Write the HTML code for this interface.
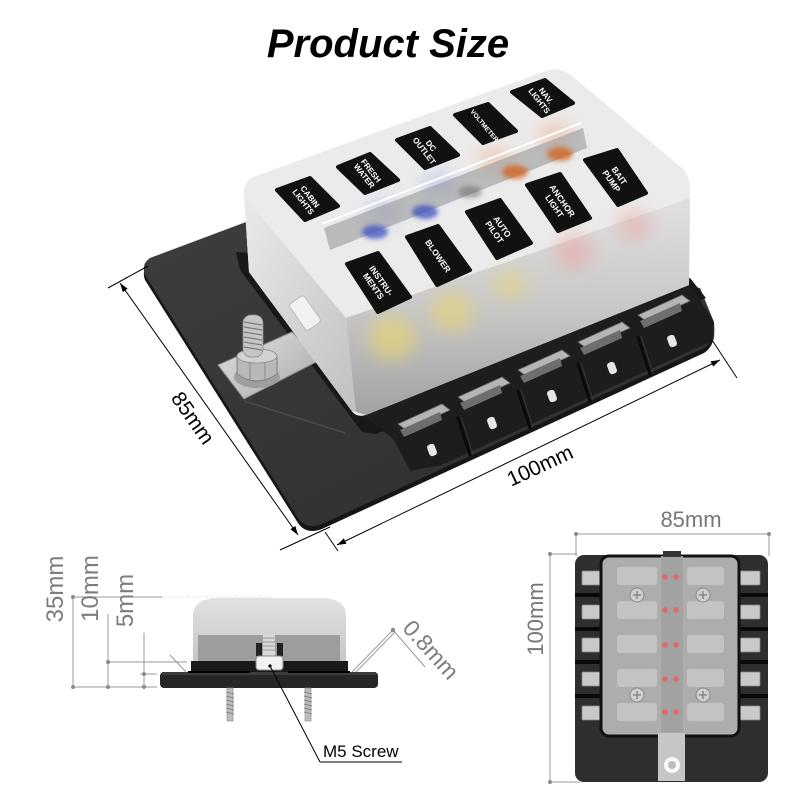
<!DOCTYPE html>
<html><head><meta charset="utf-8"><style>
html,body{margin:0;padding:0;background:#fff;}
svg{display:block;}
</style></head><body>
<svg width="800" height="800" viewBox="0 0 800 800" xmlns="http://www.w3.org/2000/svg">
<defs>
 <linearGradient id="plate" x1="0" y1="0" x2="1" y2="1">
  <stop offset="0" stop-color="#3d3d3d"/><stop offset="1" stop-color="#2d2d2d"/>
 </linearGradient>
 <linearGradient id="front" x1="0" y1="0" x2="0" y2="1">
  <stop offset="0" stop-color="#e0e0e0"/><stop offset="0.5" stop-color="#c8c8c8"/><stop offset="1" stop-color="#a2a2a2"/>
 </linearGradient>
 <linearGradient id="leftf" x1="0" y1="0" x2="1" y2="1">
  <stop offset="0" stop-color="#eaeaea"/><stop offset="1" stop-color="#c0c0c0"/>
 </linearGradient>
 <linearGradient id="sidecov" x1="0" y1="0" x2="0" y2="1">
  <stop offset="0" stop-color="#e2e2e2"/><stop offset="1" stop-color="#c6c6c6"/>
 </linearGradient>
 <linearGradient id="metal" x1="0" y1="0" x2="1" y2="1">
  <stop offset="0" stop-color="#e2e2e2"/><stop offset="1" stop-color="#a8a8a8"/>
 </linearGradient>
 <filter id="blur" x="-50%" y="-50%" width="200%" height="200%"><feGaussianBlur stdDeviation="8"/></filter>
 <filter id="blur2" x="-50%" y="-50%" width="200%" height="200%"><feGaussianBlur stdDeviation="2.5"/></filter>
</defs>

<!-- Title -->
<text x="388" y="57" font-family="Liberation Sans, sans-serif" font-weight="bold" font-style="italic" font-size="40" text-anchor="middle" fill="#000">Product Size</text>

<!-- ===== Main product ===== -->
<path d="M150,263 L262,221 L700,293 L714,327 Q716,345 704,353 L322,529 Q306,535 298,523 L145,280 Q141,269 150,263 Z" fill="#161616"/>
<path d="M150,258 L262,216 L700,288 L714,322 Q716,340 704,348 L322,524 Q306,530 298,518 L145,275 Q141,264 150,258 Z" fill="url(#plate)"/>
<line x1="244" y1="401" x2="345" y2="433" stroke="#4a4a4a" stroke-width="1.5"/>
<polygon points="236,252 690,278 706,298 376,434 362,432 240,270" fill="#181818"/>

<!-- terminal strip -->
<polygon points="362,414 690,284 714,322 712,341 442,465 410,471 394,440" fill="#1d1d1d"/>
<g stroke-linecap="round">
 <line x1="458" y1="418" x2="470" y2="455" stroke="#0a0a0a" stroke-width="3"/>
 <line x1="518" y1="391" x2="530" y2="428" stroke="#0a0a0a" stroke-width="3"/>
 <line x1="578" y1="364" x2="590" y2="401" stroke="#0a0a0a" stroke-width="3"/>
 <line x1="638" y1="337" x2="650" y2="374" stroke="#0a0a0a" stroke-width="3"/>
 <line x1="461" y1="417" x2="473" y2="454" stroke="#383838" stroke-width="1"/>
 <line x1="521" y1="390" x2="533" y2="427" stroke="#383838" stroke-width="1"/>
 <line x1="581" y1="363" x2="593" y2="400" stroke="#383838" stroke-width="1"/>
 <line x1="641" y1="336" x2="653" y2="373" stroke="#383838" stroke-width="1"/>
</g>
<g fill="#b5b5b5" stroke="#6a6a6a" stroke-width="0.8">
 <polygon points="398,424 442,404 450,410 406,430"/>
 <polygon points="458,397 502,377 510,383 466,403"/>
 <polygon points="518,370 562,350 570,356 526,376"/>
 <polygon points="578,342 622,322 630,328 586,348"/>
 <polygon points="638,315 682,295 690,301 646,321"/>
</g>
<g fill="#6e6e6e">
 <polygon points="400,430 440,412 442,420 404,437"/>
 <polygon points="460,403 500,385 502,393 464,410"/>
 <polygon points="520,376 560,358 562,366 524,383"/>
 <polygon points="580,348 620,330 622,338 584,355"/>
 <polygon points="640,321 680,303 682,311 644,328"/>
</g>
<g fill="#e6e6e6">
 <rect x="428" y="444" width="8" height="12" rx="3" transform="rotate(-20 432 450)"/>
 <rect x="488" y="417" width="8" height="12" rx="3" transform="rotate(-20 492 423)"/>
 <rect x="548" y="390" width="8" height="12" rx="3" transform="rotate(-20 552 396)"/>
 <rect x="608" y="362" width="8" height="12" rx="3" transform="rotate(-20 612 368)"/>
 <rect x="668" y="335" width="8" height="12" rx="3" transform="rotate(-20 672 341)"/>
</g>

<!-- metal plate + stud -->
<polygon points="218,365 292,332 320,360 244,399" fill="url(#metal)" stroke="#8d8d8d" stroke-width="1"/>
<ellipse cx="257" cy="377" rx="23" ry="11" fill="#9e9e9e"/>
<path d="M237,356 L237,374 Q257,388 277,374 L277,356 Q257,344 237,356 Z" fill="#b8b8b8" stroke="#7d7d7d" stroke-width="1"/>
<path d="M250,350 L250,381 M265,350 L265,381" stroke="#8a8a8a" stroke-width="1"/>
<ellipse cx="257" cy="356" rx="20" ry="7" fill="#d2d2d2" stroke="#8a8a8a" stroke-width="0.8"/>
<rect x="243" y="315" width="20" height="42" rx="8" fill="#c6c6c6" stroke="#8a8a8a" stroke-width="0.8"/>
<g stroke="#7c7c7c" stroke-width="1.2">
 <line x1="244" y1="322" x2="262" y2="325"/><line x1="244" y1="327" x2="262" y2="330"/>
 <line x1="244" y1="332" x2="262" y2="335"/><line x1="244" y1="337" x2="262" y2="340"/>
 <line x1="244" y1="342" x2="262" y2="345"/><line x1="244" y1="347" x2="262" y2="350"/>
</g>

<!-- cover -->
<path d="M244,192 Q244,180 256,176 L546,71 Q560,66 572,76 L682,168 Q690,176 690,190 L689,285 L366,415 Q356,418 351,410 L249,272 Z" fill="#ebebeb"/>
<polygon points="244,196 346,318 356,412 351,410 249,272" fill="url(#leftf)"/>
<polygon points="346,318 690,198 689,285 366,415 356,412" fill="url(#front)"/>
<rect x="296" y="297" width="18" height="32" rx="3" fill="#f2f2f2" stroke="#bdbdbd" transform="rotate(-35 305 313)"/>
<!-- glows -->
<g filter="url(#blur)">
 <ellipse cx="392" cy="338" rx="24" ry="22" fill="#ecd864" opacity="0.55"/>
 <ellipse cx="452" cy="312" rx="22" ry="20" fill="#ecd864" opacity="0.5"/>
 <ellipse cx="510" cy="285" rx="18" ry="16" fill="#ecd864" opacity="0.4"/>
 <ellipse cx="574" cy="252" rx="20" ry="18" fill="#eea0a0" opacity="0.5"/>
 <ellipse cx="634" cy="225" rx="18" ry="16" fill="#eea0a0" opacity="0.45"/>
 <ellipse cx="385" cy="212" rx="18" ry="12" fill="#9aaaee" opacity="0.45"/>
 <ellipse cx="440" cy="185" rx="18" ry="12" fill="#9aaaee" opacity="0.45"/>
 <ellipse cx="495" cy="160" rx="18" ry="12" fill="#f0a880" opacity="0.45"/>
 <ellipse cx="555" cy="135" rx="18" ry="12" fill="#f0a880" opacity="0.45"/>
</g>
<!-- channel -->
<polygon points="324,228 583,128 587,148 330,250" fill="#9a9a9a" opacity="0.6"/>
<g filter="url(#blur2)">
 <ellipse cx="375" cy="232" rx="13" ry="7" fill="#3a4fc0" opacity="0.75"/>
 <ellipse cx="425" cy="212" rx="13" ry="7" fill="#3a4fc0" opacity="0.75"/>
 <ellipse cx="515" cy="172" rx="13" ry="7" fill="#d2621a" opacity="0.75"/>
 <ellipse cx="560" cy="154" rx="13" ry="7" fill="#d2621a" opacity="0.75"/>
 <ellipse cx="470" cy="192" rx="12" ry="6" fill="#666" opacity="0.5"/>
</g>
<line x1="322" y1="224" x2="581" y2="123" stroke="#ffffff" stroke-width="2"/>

<!-- labels -->
<g fill="#111" stroke="#111" stroke-width="4" stroke-linejoin="round">
 <polygon points="277,190 310,178 338,206 305,220"/>
 <polygon points="338,167 370,154 398,180 365,193"/>
 <polygon points="397,140 430,128 458,155 425,168"/>
 <polygon points="455,115 488,104 516,131 483,143"/>
 <polygon points="512,92 545,80 573,103 542,116"/>
 <polygon points="347,264 378,253 410,297 378,312"/>
 <polygon points="407,237 438,226 470,270 437,285"/>
 <polygon points="467,212 500,200 531,243 497,258"/>
 <polygon points="527,185 560,174 590,218 558,231"/>
 <polygon points="585,160 617,150 646,193 618,205"/>
</g>
<g font-family="Liberation Sans, sans-serif" font-weight="bold" font-size="8" fill="#fff" text-anchor="middle">
 <text transform="translate(307,199) rotate(52)"><tspan x="0" y="-1">CABIN</tspan><tspan x="0" y="7.5">LIGHTS</tspan></text>
 <text transform="translate(368,173) rotate(52)"><tspan x="0" y="-1">FRESH</tspan><tspan x="0" y="7.5">WATER</tspan></text>
 <text transform="translate(428,148) rotate(52)"><tspan x="0" y="-1">DC</tspan><tspan x="0" y="7.5">OUTLET</tspan></text>
 <text transform="translate(485,125) rotate(50)" font-size="6.5"><tspan x="0" y="3">VOLTMETER</tspan></text>
 <text transform="translate(543,98) rotate(52)"><tspan x="0" y="-1">NAV.</tspan><tspan x="0" y="7.5">LIGHTS</tspan></text>
 <text transform="translate(378,283) rotate(55)" font-size="8.5"><tspan x="0" y="-1">INSTRU-</tspan><tspan x="0" y="8.5">MENTS</tspan></text>
 <text transform="translate(438,256) rotate(55)" font-size="8.5"><tspan x="0" y="3">BLOWER</tspan></text>
 <text transform="translate(499,229) rotate(55)" font-size="8.5"><tspan x="0" y="-1">AUTO</tspan><tspan x="0" y="8.5">PILOT</tspan></text>
 <text transform="translate(559,203) rotate(55)" font-size="8.5"><tspan x="0" y="-1">ANCHOR</tspan><tspan x="0" y="8.5">LIGHT</tspan></text>
 <text transform="translate(616,178) rotate(55)" font-size="8.5"><tspan x="0" y="-1">BAIT</tspan><tspan x="0" y="8.5">PUMP</tspan></text>
</g>

<!-- main dimension lines -->
<g stroke="#000" stroke-width="1" fill="none">
 <line x1="120" y1="283" x2="298" y2="535"/>
 <line x1="108" y1="288" x2="148" y2="266"/>
 <line x1="280" y1="550" x2="330" y2="527"/>
 <line x1="337" y1="545" x2="720" y2="360"/>
 <line x1="325" y1="532" x2="338" y2="551"/>
 <line x1="712" y1="340" x2="737" y2="378"/>
</g>
<g fill="#000">
 <polygon points="120,283 122.8,292.1 127.7,288.7"/>
 <polygon points="298,535 290.4,529.3 295.3,525.9"/>
 <polygon points="337,545 346.4,543.8 343.8,538.4"/>
 <polygon points="720,360 713.2,366.6 710.6,361.2"/>
</g>
<g font-family="Liberation Sans, sans-serif" font-size="21" fill="#000" text-anchor="middle">
 <text transform="translate(187,422) rotate(55)">85mm</text>
 <text transform="translate(543,472) rotate(-25)">100mm</text>
</g>

<!-- ===== Side view ===== -->
<g stroke="#9a9a9a" stroke-width="1" fill="none">
 <line x1="73" y1="597" x2="162" y2="597"/>
 <line x1="162" y1="597" x2="273" y2="597" stroke="#d0d0d0" stroke-dasharray="1,2"/>
 <line x1="108" y1="662" x2="187" y2="662"/>
 <line x1="140" y1="674" x2="157" y2="674"/>
 <line x1="73" y1="687" x2="157" y2="687"/>
 <line x1="73" y1="597" x2="73" y2="687"/>
 <line x1="108" y1="614" x2="108" y2="687"/>
 <line x1="144" y1="633" x2="144" y2="687"/>
 <line x1="170" y1="655" x2="186" y2="672"/>
 <line x1="352" y1="672" x2="393" y2="630"/>
 <line x1="355" y1="673" x2="395" y2="632"/>
 <line x1="393" y1="630" x2="425" y2="667"/>
</g>
<g fill="#8a8a8a">
 <circle cx="73" cy="597" r="2"/><circle cx="73" cy="687" r="2"/>
 <circle cx="108" cy="662" r="2"/><circle cx="108" cy="687" r="2"/>
 <circle cx="144" cy="674" r="2"/><circle cx="144" cy="687" r="2"/>
 <circle cx="393" cy="630" r="2.2"/>
</g>
<g font-family="Liberation Sans, sans-serif" font-size="24" fill="#7d7d7d" text-anchor="middle">
 <text transform="translate(63,589) rotate(-90)">35mm</text>
 <text transform="translate(98,588.5) rotate(-90)">10mm</text>
 <text transform="translate(133,600.5) rotate(-90)">5mm</text>
 <text transform="translate(425,655) rotate(48)" font-size="23">0.8mm</text>
</g>
<path d="M193,661 L193,614 Q194,600 214,598 L325,598 Q345,600 346,614 L346,661 Z" fill="url(#sidecov)"/>
<rect x="198" y="635" width="142" height="26" fill="#9d9d9d"/>
<rect x="191" y="661" width="157" height="13" fill="#1a1a1a"/>
<rect x="160" y="672" width="218" height="16" rx="4" fill="#262626"/>
<rect x="162" y="672" width="214" height="3" fill="#3d3d3d"/>
<rect x="188" y="671" width="62" height="2" fill="#000"/>
<rect x="288" y="671" width="62" height="2" fill="#000"/>
<rect x="263" y="634" width="12" height="22" fill="#d8d8d8"/>
<g stroke="#999" stroke-width="1">
 <line x1="263" y1="638" x2="275" y2="638"/><line x1="263" y1="642" x2="275" y2="642"/>
 <line x1="263" y1="646" x2="275" y2="646"/><line x1="263" y1="650" x2="275" y2="650"/>
</g>
<rect x="256" y="643" width="6" height="13" fill="#222"/>
<rect x="277" y="643" width="6" height="13" fill="#222"/>
<rect x="256" y="656" width="27" height="14" rx="3" fill="#f2f2f2" stroke="#888" stroke-width="1"/>
<g fill="#bcbcbc" stroke="#888" stroke-width="0.6">
 <rect x="227" y="688" width="6" height="33"/>
 <rect x="305" y="688" width="6" height="33"/>
</g>
<g stroke="#777" stroke-width="0.8">
 <path d="M226,692 L234,694 M226,696 L234,698 M226,700 L234,702 M226,704 L234,706 M226,708 L234,710 M226,712 L234,714"/>
 <path d="M304,692 L312,694 M304,696 L312,698 M304,700 L312,702 M304,704 L312,706 M304,708 L312,710 M304,712 L312,714"/>
</g>
<line x1="270" y1="666" x2="320" y2="762" stroke="#000" stroke-width="1"/>
<line x1="320" y1="762" x2="402" y2="762" stroke="#000" stroke-width="1"/>
<circle cx="270" cy="666" r="1.6" fill="#000"/>
<text x="323" y="757" font-family="Liberation Sans, sans-serif" font-size="17" fill="#000">M5 Screw</text>

<!-- ===== Top view ===== -->
<g stroke="#9a9a9a" stroke-width="1">
 <line x1="576" y1="534" x2="769" y2="534"/>
 <line x1="576" y1="534" x2="576" y2="556"/>
 <line x1="769" y1="534" x2="769" y2="556"/>
 <line x1="550" y1="554" x2="550" y2="782"/>
 <line x1="550" y1="554" x2="577" y2="554"/>
 <line x1="550" y1="782" x2="580" y2="782"/>
</g>
<g fill="#8a8a8a">
 <circle cx="576" cy="534" r="2"/><circle cx="769" cy="534" r="2"/>
 <circle cx="550" cy="554" r="2"/><circle cx="550" cy="782" r="2"/>
</g>
<text x="691" y="527" font-family="Liberation Sans, sans-serif" font-size="22" fill="#777" text-anchor="middle">85mm</text>
<text transform="translate(543,619) rotate(-90)" font-family="Liberation Sans, sans-serif" font-size="22" fill="#777" text-anchor="middle">100mm</text>

<rect x="575" y="555" width="193" height="227" rx="9" fill="#2e2e2e"/>
<g fill="#0a0a0a">
 <rect x="575" y="593" width="28" height="4"/><rect x="575" y="627" width="28" height="4"/>
 <rect x="575" y="660" width="28" height="4"/><rect x="575" y="694" width="28" height="4"/>
 <rect x="738" y="593" width="30" height="4"/><rect x="738" y="627" width="30" height="4"/>
 <rect x="738" y="660" width="30" height="4"/><rect x="738" y="694" width="30" height="4"/>
</g>
<g fill="#c9c9c9" stroke="#888" stroke-width="0.8">
 <rect x="582" y="571" width="21" height="14" rx="1"/><rect x="582" y="605" width="21" height="14" rx="1"/>
 <rect x="582" y="638" width="21" height="14" rx="1"/><rect x="582" y="672" width="21" height="14" rx="1"/>
 <rect x="582" y="706" width="21" height="14" rx="1"/>
 <rect x="740" y="571" width="20" height="14" rx="1"/><rect x="740" y="605" width="20" height="14" rx="1"/>
 <rect x="740" y="638" width="20" height="14" rx="1"/><rect x="740" y="672" width="20" height="14" rx="1"/>
 <rect x="740" y="706" width="20" height="14" rx="1"/>
</g>
<rect x="601" y="556" width="138" height="180" rx="8" fill="#adadad" stroke="#111" stroke-width="3"/>
<rect x="661" y="556" width="22" height="176" fill="#a2a2a2"/>
<rect x="663" y="551" width="18" height="6" fill="#333"/>
<g fill="#c3c3c3">
 <rect x="617" y="567" width="40" height="18" rx="3"/><rect x="687" y="567" width="37" height="18" rx="3"/>
 <rect x="617" y="601" width="40" height="18" rx="3"/><rect x="687" y="601" width="37" height="18" rx="3"/>
 <rect x="617" y="635" width="40" height="18" rx="3"/><rect x="687" y="635" width="37" height="18" rx="3"/>
 <rect x="617" y="669" width="40" height="18" rx="3"/><rect x="687" y="669" width="37" height="18" rx="3"/>
 <rect x="617" y="703" width="40" height="18" rx="3"/><rect x="687" y="703" width="37" height="18" rx="3"/>
</g>
<g fill="#cfcfcf" stroke="#8a8a8a" stroke-width="1">
 <circle cx="637" cy="595" r="7"/><circle cx="703" cy="595" r="7"/>
 <circle cx="637" cy="695" r="7"/><circle cx="703" cy="695" r="7"/>
</g>
<g stroke="#888" stroke-width="1.5">
 <path d="M633,595 h8 M637,591 v8 M699,595 h8 M703,591 v8 M633,695 h8 M637,691 v8 M699,695 h8 M703,691 v8"/>
</g>
<g fill="#e06a6a">
 <circle cx="665" cy="577" r="2.8"/><circle cx="676" cy="577" r="2.8"/>
 <circle cx="665" cy="610" r="2.8"/><circle cx="676" cy="610" r="2.8"/>
 <circle cx="665" cy="645" r="2.8"/><circle cx="676" cy="645" r="2.8"/>
 <circle cx="665" cy="679" r="2.8"/><circle cx="676" cy="679" r="2.8"/>
 <circle cx="665" cy="712" r="2.8"/><circle cx="676" cy="712" r="2.8"/>
</g>
<rect x="658" y="733" width="27" height="48" fill="#c6c6c6"/>
<circle cx="672" cy="765" r="8" fill="#fafafa"/>
<circle cx="672" cy="765" r="4" fill="#bdbdbd"/>
</svg>
</body></html>
